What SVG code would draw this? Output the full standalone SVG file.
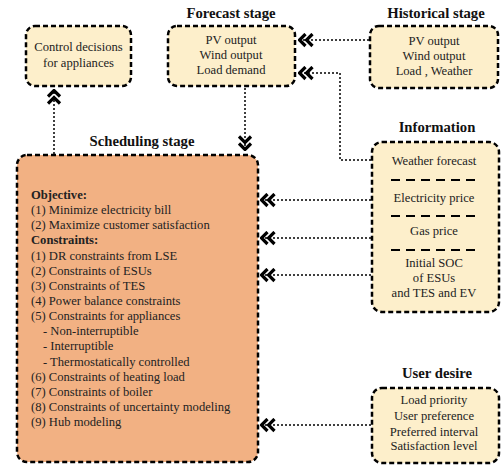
<svg xmlns="http://www.w3.org/2000/svg" width="501" height="466" viewBox="0 0 501 466">
<style>
.box{fill:#FDEFCB;stroke:#000;stroke-width:2.5;stroke-dasharray:5 3}
.sched{fill:#F2B183;stroke:#000;stroke-width:2.5;stroke-dasharray:5 3}
text{font-family:'Liberation Serif','Times New Roman','DejaVu Serif',serif}
.t{font-size:12.6px;fill:#222}
.c{text-anchor:middle}
.h{font-size:14.7px;font-weight:bold;text-anchor:middle;fill:#111}
.b{font-weight:bold}
.con{fill:none;stroke:#000;stroke-width:1.5;stroke-dasharray:2 2;marker-end:url(#dbl)}
.sep{stroke:#000;stroke-width:2;stroke-dasharray:9 6}
</style>
<defs>
<marker id="dbl" viewBox="0 0 16 15" refX="15" refY="7.5" markerWidth="16" markerHeight="15" markerUnits="userSpaceOnUse" orient="auto">
<path d="M1.5,1.5 L7.5,7.5 L1.5,13.5 M8.5,1.5 L14.5,7.5 L8.5,13.5" fill="none" stroke="#000" stroke-width="3.2"/>
</marker>
</defs>
<g id="connectors">
<path class="con" d="M54,154 L54,90"/>
<path class="con" d="M245,88 L245,150"/>
<path class="con" d="M369,40 L299,40"/>
<path class="con" d="M371,160 L340,160 L340,73 L299,73"/>
<path class="con" d="M371,200 L261,200"/>
<path class="con" d="M371,238 L261,238"/>
<path class="con" d="M371,275 L261,275"/>
<path class="con" d="M371,425 L261,425"/>
</g>
<g id="control">
<rect class="box" x="26" y="26" width="105" height="60" rx="9"/>
<text class="t c" x="78.5" y="51">Control decisions</text>
<text class="t c" x="78.5" y="67">for appliances</text>
</g>
<g id="forecast">
<text class="h" x="231" y="18">Forecast stage</text>
<rect class="box" x="168" y="26" width="127" height="60" rx="9"/>
<text class="t c" x="231" y="44">PV output</text>
<text class="t c" x="231" y="59">Wind output</text>
<text class="t c" x="231" y="74">Load demand</text>
</g>
<g id="historical">
<text class="h" x="436" y="18">Historical stage</text>
<rect class="box" x="370" y="26" width="128" height="62" rx="9"/>
<text class="t c" x="434" y="45">PV output</text>
<text class="t c" x="434" y="60">Wind output</text>
<text class="t c" x="434" y="75">Load , Weather</text>
</g>
<g id="information">
<text class="h" x="437" y="132">Information</text>
<rect class="box" x="372" y="142" width="127" height="170" rx="10"/>
<text class="t c" x="434" y="165">Weather forecast</text>
<line class="sep" x1="391" y1="180" x2="480" y2="180"/>
<text class="t c" x="434" y="202">Electricity price</text>
<line class="sep" x1="391" y1="216" x2="480" y2="216"/>
<text class="t c" x="434" y="235">Gas price</text>
<line class="sep" x1="391" y1="250" x2="480" y2="250"/>
<text class="t c" x="434" y="267">Initial SOC</text>
<text class="t c" x="434" y="282">of ESUs</text>
<text class="t c" x="434" y="297">and TES and EV</text>
</g>
<g id="userdesire">
<text class="h" x="437" y="378">User desire</text>
<rect class="box" x="372" y="388" width="127" height="75" rx="10"/>
<text class="t c" x="434" y="404">Load priority</text>
<text class="t c" x="434" y="420">User preference</text>
<text class="t c" x="434" y="436">Preferred interval</text>
<text class="t c" x="434" y="450">Satisfaction level</text>
</g>
<g id="scheduling">
<text class="h" x="142" y="146">Scheduling stage</text>
<rect class="sched" x="17" y="155" width="241" height="307" rx="10"/>
<text class="t" x="31" y="199"><tspan class="b">Objective:</tspan></text>
<text class="t" x="31" y="214">(1) Minimize electricity bill</text>
<text class="t" x="31" y="229">(2) Maximize customer satisfaction</text>
<text class="t" x="31" y="244"><tspan class="b">Constraints:</tspan></text>
<text class="t" x="31" y="260">(1) DR constraints from LSE</text>
<text class="t" x="31" y="275">(2) Constraints of ESUs</text>
<text class="t" x="31" y="290">(3) Constraints of TES</text>
<text class="t" x="31" y="305">(4) Power balance constraints</text>
<text class="t" x="31" y="320">(5) Constraints for appliances</text>
<text class="t" x="43" y="335">- Non-interruptible</text>
<text class="t" x="43" y="350">- Interruptible</text>
<text class="t" x="43" y="366">- Thermostatically controlled</text>
<text class="t" x="31" y="381">(6) Constraints of heating load</text>
<text class="t" x="31" y="396">(7) Constraints of boiler</text>
<text class="t" x="31" y="411">(8) Constraints of uncertainty modeling</text>
<text class="t" x="31" y="426">(9) Hub modeling</text>
</g>
</svg>
